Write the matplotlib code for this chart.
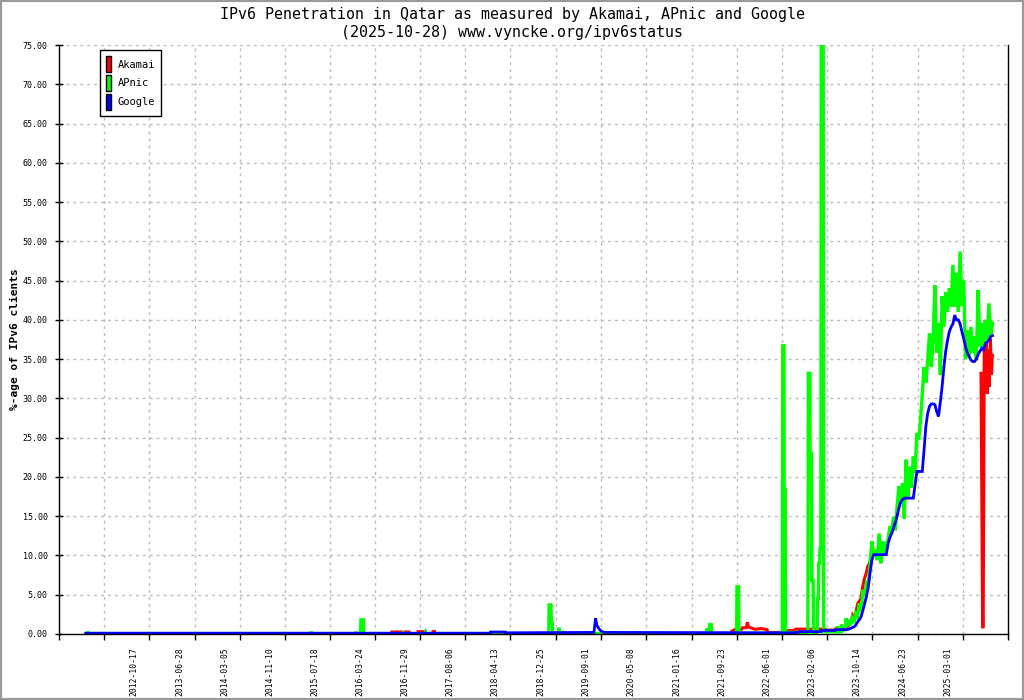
import numpy as np
import pandas as pd
import matplotlib
matplotlib.use("Agg")
import matplotlib.pyplot as plt
from matplotlib.patches import Patch, Rectangle

# ---------------- DATA ---------------- #

title_line1 = "IPv6 Penetration in Qatar as measured by Akamai, APnic and Google"
title_line2 = "(2025-10-28) www.vyncke.org/ipv6status"
y_label = "%-age of IPv6 clients"
series_names = ["Akamai", "APnic", "Google"]

x_start = "2011-06-03"
x_end = "2025-11-07"

tick_dates = ["2011-06-03", "2012-02-09", "2012-10-17", "2013-06-28", "2014-03-05",
              "2014-11-10", "2015-07-18", "2016-03-24", "2016-11-29", "2017-08-06",
              "2018-04-13", "2018-12-25", "2019-09-01", "2020-05-08", "2021-01-16",
              "2021-09-23", "2022-06-01", "2023-02-06", "2023-10-14", "2024-06-23",
              "2025-03-01", "2025-11-07"]
label_dates = tick_dates[2:21]

# Akamai (NaN = no data)
akamai_dates = ["2016-06-26", "2016-07-20", "2016-07-25", "2016-08-01", "2016-09-29", "2016-10-05",
                "2016-11-19", "2016-12-30", "2017-01-05", "2017-02-10", "2017-02-18", "2017-02-22",
                "2021-08-27", "2021-09-15", "2021-10-20", "2021-10-25", "2021-11-16", "2021-11-20",
                "2021-11-27", "2021-12-15", "2022-01-03", "2022-02-05", "2022-03-10", "2022-03-16",
                "2022-05-31", "2022-06-08", "2022-08-12", "2022-08-16", "2023-01-26", "2023-01-30",
                "2023-03-23", "2023-03-27", "2023-05-18", "2023-06-02", "2023-06-18", "2023-06-28",
                "2023-07-08", "2023-07-27", "2023-08-13", "2023-08-23", "2023-09-01", "2023-09-11",
                "2023-09-20", "2023-10-10", "2023-10-15",
                "2025-06-10", "2025-06-19", "2025-06-22", "2025-06-25", "2025-06-28", "2025-07-04",
                "2025-07-10", "2025-07-15", "2025-07-21", "2025-07-26", "2025-08-01", "2025-08-07",
                "2025-08-12"]
akamai_vals = [0.25, 0.25, np.nan, 0.25, 0.25, np.nan,
               0.3, 0.3, np.nan, 0.3, 0.3, np.nan,
               0.35, 0.6, 0.6, 0.8, 0.8, 1.5,
               0.9, 0.75, 0.6, 0.7, 0.55, 0.2,
               0.2, 0.45, 0.45, 0.62, 0.62, 0.5,
               0.5, 0.65, 0.65, 1.0, 1.4, 2.4,
               2.0, 3.9, 4.5, 6.0, 7.0, 7.7,
               8.6, 9.5, np.nan,
               33.2, 0.9, 0.9, 17.0, 37.0, 31.0,
               37.0, 30.6, 36.2, 31.5, 37.6, 33.0,
               35.5]

# APnic, sparse part
apnic_early_dates = ["2011-11-01", "2011-11-10", "2011-11-12", "2011-11-16", "2015-04-03", "2015-04-05",
                     "2015-04-08", "2015-12-07", "2015-12-09", "2015-12-12", "2016-01-04", "2016-01-06",
                     "2016-01-20", "2016-01-22", "2016-08-25", "2016-08-27", "2016-08-30", "2016-12-28",
                     "2016-12-30", "2017-01-02", "2018-11-14", "2018-11-16", "2018-11-26", "2018-11-28",
                     "2018-12-03", "2018-12-06", "2019-01-07", "2019-01-09", "2019-01-13", "2019-01-29",
                     "2019-01-31", "2019-02-03", "2021-04-08", "2021-04-11", "2021-04-22", "2021-04-26",
                     "2021-05-04", "2021-05-07", "2021-09-22", "2021-09-24", "2021-10-03", "2021-10-05",
                     "2022-06-03", "2022-06-05", "2022-06-12", "2022-06-13", "2022-06-19", "2022-06-21",
                     "2022-10-23", "2022-10-25", "2022-11-03", "2022-11-04", "2022-11-12", "2022-11-13",
                     "2022-11-21", "2022-11-23", "2022-12-13", "2022-12-15", "2022-12-20", "2022-12-22",
                     "2022-12-27", "2022-12-29", "2023-01-03", "2023-01-05", "2023-01-16", "2023-01-18",
                     "2023-04-03", "2023-04-05", "2023-04-08", "2023-04-25", "2023-04-27", "2023-05-01",
                     "2023-05-21", "2023-05-23", "2023-05-27"]
apnic_early_vals = [0.05, 0.05, 0.3, 0.05, 0.05, 0.3,
                    0.05, 0.05, 0.3, 0.05, 0.05, 1.8,
                    1.8, 0.05, 0.05, 0.3, 0.05, 0.05,
                    0.2, 0.05, 0.05, 3.7, 3.7, 1.8,
                    1.5, 0.05, 0.05, 0.8, 0.05, 0.05,
                    0.4, 0.05, 0.05, 0.7, 0.1, 1.2,
                    1.2, 0.05, 0.05, 6.0, 6.0, 0.05,
                    0.1, 36.7, 36.7, 18.4, 18.4, 0.2,
                    0.2, 33.2, 33.2, 23.0, 23.0, 6.8,
                    6.8, 0.2, 0.2, 4.5, 4.5, 9.0,
                    9.0, 10.9, 10.9, 75.0, 75.0, 0.3,
                    0.3, 1.0, 0.3, 0.3, 1.2, 0.4,
                    0.6, 2.0, 1.0]

# dense part: one value every 10 days from this date
dense_start = "2023-06-05"
apnic_dense = [1.8, 1.1, 2.0, 1.4, 2.6, 2.2, 3.9, 2.8, 5.6, 4.8,
               6.5, 6.2, 9.0, 11.8, 10.0, 10.7, 9.4, 12.8, 9.0, 11.8,
               10.1, 11.5, 12.0, 13.7, 13.0, 14.9, 13.2, 16.2, 18.8, 16.6,
               19.2, 14.7, 22.2, 17.5, 21.3, 18.6, 22.6, 20.5, 25.6, 24.7,
               27.2, 30.6, 34.0, 32.0, 34.9, 38.3, 34.0, 37.4, 44.4, 35.8,
               39.6, 33.0, 43.0, 39.1, 43.5, 41.0, 44.0, 41.7, 47.0, 41.7,
               46.0, 41.0, 48.7, 41.8, 45.0, 35.0, 38.7, 35.3, 39.1, 35.8,
               37.9, 34.9, 43.8, 36.6, 39.6, 36.6, 40.0, 37.5, 42.1, 37.9,
               39.6]

google_early_dates = ["2011-11-01", "2017-12-24", "2017-12-26", "2018-03-17", "2018-03-19", "2019-07-23",
                      "2019-08-01", "2019-08-08", "2019-08-19", "2019-08-30", "2019-09-16", "2022-07-07",
                      "2022-08-31", "2022-09-05", "2023-01-05", "2023-01-10", "2023-03-23", "2023-03-28",
                      "2023-05-18"]
google_early_vals = [0.1, 0.1, 0.25, 0.25, 0.15, 0.2,
                     2.0, 1.1, 0.7, 0.4, 0.2, 0.15,
                     0.2, 0.3, 0.3, 0.45, 0.45, 0.55,
                     0.55]
google_dense = [0.6, 0.7, 0.8, 0.9, 1.1, 1.5, 1.8, 2.2, 3.0, 3.9,
                4.8, 6.0, 7.8, 9.4, 10.1, 10.1, 10.1, 10.1, 10.1, 10.1,
                10.1, 10.1, 11.5, 12.3, 12.8, 13.5, 14.2, 15.0, 16.0, 16.8,
                17.1, 17.3, 17.3, 17.3, 17.3, 17.3, 17.3, 19.0, 20.7, 20.7,
                20.7, 20.7, 23.5, 26.5, 28.1, 29.0, 29.3, 29.3, 29.2, 28.3,
                27.7, 29.5, 31.5, 34.0, 36.0, 37.4, 38.5, 39.1, 39.5, 40.6,
                40.0, 40.0, 39.5, 38.5, 37.6, 36.6, 35.8, 35.3, 34.9, 34.7,
                34.7, 35.0, 35.6, 36.0, 36.4, 36.2, 37.0, 37.2, 37.4, 37.9,
                38.0]

# ---------------- PLOT ---------------- #

colors = ["#ff0000", "#00ff00", "#0000ff"]
mono = "DejaVu Sans Mono"

dense_x = pd.date_range(dense_start, periods=len(apnic_dense), freq="10D")
akamai_x = pd.to_datetime(akamai_dates)
apnic_x = pd.to_datetime(apnic_early_dates).append(dense_x)
apnic_y = apnic_early_vals + apnic_dense
google_x = pd.to_datetime(google_early_dates).append(
    pd.date_range(dense_start, periods=len(google_dense), freq="10D"))
google_y = google_early_vals + google_dense

fig = plt.figure(figsize=(10.24, 7.0), dpi=100)
fig.patch.set_facecolor("white")
fig.patches.append(Rectangle((0, 0), 1, 1, transform=fig.transFigure, fill=False,
                             edgecolor="#999999", linewidth=3))

ax = fig.add_axes([0.0573, 0.0943, 0.9271, 0.8414])

ax.plot(akamai_x, akamai_vals, color=colors[0], linewidth=2.2, solid_joinstyle="miter")
ax.plot(apnic_x, apnic_y, color=colors[1], linewidth=2.4, solid_joinstyle="miter")
ax.plot(google_x, google_y, color=colors[2], linewidth=2, solid_joinstyle="miter")

ax.set_xlim(pd.Timestamp(x_start), pd.Timestamp(x_end))
ax.set_ylim(0, 75)

ax.set_yticks(np.arange(0, 76, 5))
ax.set_yticklabels([f"{v:.2f}" for v in np.arange(0, 76, 5)], fontsize=6, family=mono)

# tick marks + grid on the major ticks, the date texts sit a bit left of them (minor ticks)
ax.set_xticks(pd.to_datetime(tick_dates))
ax.set_xticklabels([])
ax.set_xticks(pd.to_datetime(label_dates) - pd.Timedelta(days=83), minor=True)
ax.set_xticklabels(label_dates, minor=True, rotation=90, fontsize=5.8, family=mono,
                   va="top", ha="center")

ax.tick_params(axis="y", direction="inout", length=6, width=1, pad=5)
ax.tick_params(axis="x", which="major", direction="out", length=4, width=1)
ax.tick_params(axis="x", which="minor", length=0, pad=9.5)

ax.grid(True, which="major", color="#bbbbbb", linestyle=(0, (2, 3)), linewidth=1)
ax.set_axisbelow(True)

ax.spines["top"].set_visible(False)
for side in ["left", "bottom", "right"]:
    ax.spines[side].set_linewidth(1)
    ax.spines[side].set_color("black")

ax.set_ylabel(y_label, fontsize=8, family=mono, fontweight="bold", labelpad=2)

fig.text(0.5, 1 - 14 / 700, title_line1, ha="center", va="center", fontsize=10.8, family=mono)
fig.text(0.5, 1 - 32 / 700, title_line2, ha="center", va="center", fontsize=10.8, family=mono)

handles = [Patch(facecolor=c, edgecolor="black", linewidth=1) for c in colors]
leg = ax.legend(handles, series_names, loc="upper left", bbox_to_anchor=(0.0435, 0.9915),
                borderaxespad=0, fancybox=False, framealpha=1, edgecolor="black",
                prop={"family": mono, "size": 7.5}, handlelength=0.5, handleheight=2.0,
                handletextpad=0.6, labelspacing=0.25, borderpad=0.6)
leg.get_frame().set_linewidth(1)

fig.savefig("out.png", dpi=100)
